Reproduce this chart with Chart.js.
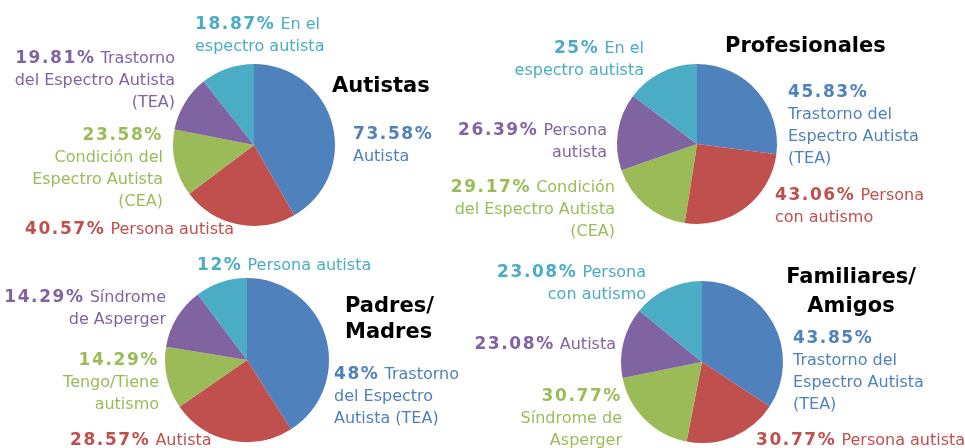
<!DOCTYPE html>
<html>
<head>
<meta charset="utf-8">
<script src="https://cdn.jsdelivr.net/npm/chart.js@4"></script>
<style>
 body { margin: 0; background: #fff; }
 #wrap { position: relative; width: 965px; height: 448px; overflow: hidden; }
 canvas { position: absolute; left: 0; top: 0; }
</style>
</head>
<body>
<div id="wrap">
 <canvas id="autistas" width="965" height="448"></canvas>
 <canvas id="profesionales" width="965" height="448"></canvas>
 <canvas id="padres" width="965" height="448"></canvas>
 <canvas id="familiares" width="965" height="448"></canvas>
</div>
<script>
var sliceColors = ['#4F81BD', '#C0504D', '#9BBB59', '#8064A2', '#4BACC6'];

// Autistas
var autCats = ['Autista', 'Persona autista', 'Condición del Espectro Autista (CEA)', 'Trastorno del Espectro Autista (TEA)', 'En el espectro autista'];
var autValues = [73.58, 40.57, 23.58, 19.81, 18.87];

// Profesionales
var proCats = ['Trastorno del Espectro Autista (TEA)', 'Persona con autismo', 'Condición del Espectro Autista (CEA)', 'Persona autista', 'En el espectro autista'];
var proValues = [45.83, 43.06, 29.17, 26.39, 25];

// Padres/Madres
var padCats = ['Trastorno del Espectro Autista (TEA)', 'Autista', 'Tengo/Tiene autismo', 'Síndrome de Asperger', 'Persona autista'];
var padValues = [48, 28.57, 14.29, 14.29, 12];

// Familiares/Amigos
var famCats = ['Trastorno del Espectro Autista (TEA)', 'Persona autista', 'Síndrome de Asperger', 'Autista', 'Persona con autismo'];
var famValues = [43.85, 30.77, 30.77, 23.08, 23.08];
// in the source the blue wedge is drawn bigger than its label (looks like 100 - 43.85 was plotted)
var famSliceValues = [56.15, 30.77, 30.77, 23.08, 23.08];

var W = 965, H = 448, LINE = 22;

// label placement relative to the pie centre; wrap = words per line (0 on first line = % alone)
var charts = [
 {
  id: 'autistas', cats: autCats, values: autValues, slices: autValues,
  cx: 254, cy: 145, r: 81,
  title: {lines: ['Autistas'], dx: 78, dy: -53, align: 'left', lh: 26},
  labels: [
   {dx: 99, dy: -6, align: 'left', wrap: [0, 1]},
   {dx: -229, dy: 89, align: 'left', wrap: [2]},
   {dx: -91, dy: -5, align: 'right', wrap: [0, 2, 2, 1]},
   {dx: -79, dy: -82, align: 'right', wrap: [1, 3, 1]},
   {dx: -59, dy: -116, align: 'left', wrap: [2, 2]}
  ]
 },
 {
  id: 'profesionales', cats: proCats, values: proValues, slices: proValues,
  cx: 697, cy: 144, r: 80,
  title: {lines: ['Profesionales'], dx: 28, dy: -92, align: 'left', lh: 26},
  labels: [
   {dx: 91, dy: -47, align: 'left', wrap: [0, 2, 2, 1]},
   {dx: 78, dy: 56, align: 'left', wrap: [1, 2]},
   {dx: -82, dy: 48, align: 'right', wrap: [1, 3, 1]},
   {dx: -90, dy: -9, align: 'right', wrap: [1, 1]},
   {dx: -53, dy: -91, align: 'right', wrap: [2, 2]}
  ]
 },
 {
  id: 'padres', cats: padCats, values: padValues, slices: padValues,
  cx: 247, cy: 360, r: 82,
  title: {lines: ['Padres/', 'Madres'], dx: 98, dy: -48, align: 'left', lh: 26},
  labels: [
   {dx: 87, dy: 19, align: 'left', wrap: [1, 2, 2]},
   {dx: -177, dy: 85, align: 'left', wrap: [1]},
   {dx: -88, dy: 5, align: 'right', wrap: [0, 1, 1]},
   {dx: -81, dy: -58, align: 'right', wrap: [1, 2]},
   {dx: -50, dy: -90, align: 'left', wrap: [2]}
  ]
 },
 {
  id: 'familiares', cats: famCats, values: famValues, slices: famSliceValues,
  cx: 702, cy: 362, r: 81,
  title: {lines: ['Familiares/', 'Amigos'], dx: 149, dy: -79, align: 'center', lh: 29},
  labels: [
   {dx: 91, dy: -19, align: 'left', wrap: [0, 2, 2, 1]},
   {dx: 54, dy: 83, align: 'left', wrap: [2]},
   {dx: -80, dy: 39, align: 'right', wrap: [0, 2, 1]},
   {dx: -86, dy: -13, align: 'right', wrap: [1]},
   {dx: -56, dy: -85, align: 'right', wrap: [1, 2]}
  ]
 }
];

function setFont(ctx, bold) {
 ctx.font = bold ? 'bold 17px "DejaVu Sans"' : '16px "DejaVu Sans"';
 ctx.letterSpacing = bold ? '1.6px' : '0px';
}

var labelPlugin = {
 id: 'pieLabels',
 afterDraw: function(chart) {
  var cfg = chart.options.plugins.pieLabels.cfg;
  var ctx = chart.ctx;
  var arc = chart.getDatasetMeta(0).data[0];
  var cx = arc.x, cy = arc.y;
  ctx.save();
  ctx.textBaseline = 'alphabetic';
  ctx.textAlign = 'left';

  cfg.labels.forEach(function(lb, i) {
   var words = cfg.cats[i].split(' ');
   var pct = cfg.values[i] + '%';
   var k = 0;
   ctx.fillStyle = sliceColors[i];
   lb.wrap.forEach(function(n, li) {
    var txt = words.slice(k, k + n).join(' ');
    k += n;
    var y = cy + lb.dy + li * LINE;
    var segs = [];
    if (li === 0) segs.push({t: pct, bold: true});
    if (txt) segs.push({t: txt, bold: false});
    var w = 0;
    segs.forEach(function(s, si) {
     setFont(ctx, s.bold);
     s.w = ctx.measureText(s.t).width;
     w += s.w + (si > 0 ? 5 : 0);
    });
    var x = lb.align === 'right' ? cx + lb.dx - w : cx + lb.dx;
    segs.forEach(function(s, si) {
     if (si > 0) x += 5;
     setFont(ctx, s.bold);
     ctx.fillText(s.t, x, y);
     x += s.w;
    });
   });
  });

  var t = cfg.title;
  ctx.fillStyle = '#000';
  ctx.font = 'bold 21px "DejaVu Sans"';
  ctx.letterSpacing = '0px';
  ctx.textAlign = t.align;
  t.lines.forEach(function(line, li) {
   ctx.fillText(line, cx + t.dx, cy + t.dy + li * t.lh);
  });
  ctx.restore();
 }
};

charts.forEach(function(cfg) {
 var ctx = document.getElementById(cfg.id).getContext('2d');
 new Chart(ctx, {
  type: 'pie',
  data: {
   labels: cfg.cats,
   datasets: [{
    data: cfg.slices,
    backgroundColor: sliceColors,
    borderWidth: 0,
    hoverOffset: 0
   }]
  },
  options: {
   responsive: false,
   animation: false,
   events: [],
   layout: {
    padding: {
     left: cfg.cx - cfg.r,
     right: W - cfg.cx - cfg.r,
     top: cfg.cy - cfg.r,
     bottom: H - cfg.cy - cfg.r
    }
   },
   plugins: {
    legend: {display: false},
    tooltip: {enabled: false},
    pieLabels: {cfg: cfg}
   }
  },
  plugins: [labelPlugin]
 });
});
</script>
</body>
</html>
